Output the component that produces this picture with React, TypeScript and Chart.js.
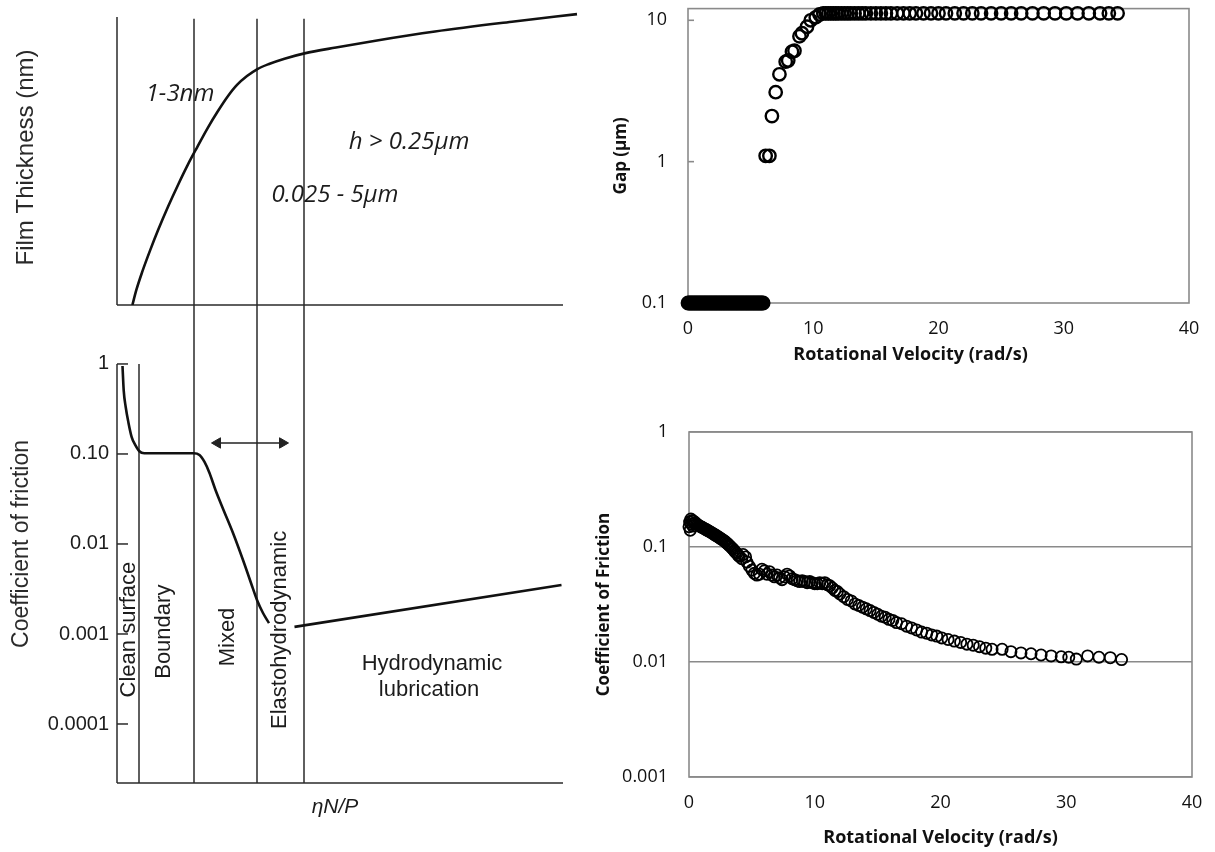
import React, { useEffect, useRef } from 'react';
import { Chart, registerables } from 'chart.js';

Chart.register(...registerables);

// ---------------- Left diagram (Stribeck curve) ----------------
// x: ηN/P (arbitrary units), yT: film thickness (arbitrary units), yB: coefficient of friction
const filmX = [3.08, 3.87, 5.06, 6.64, 8.22, 10.2, 12.2, 14.15, 16.1, 18.1, 20.1, 22.1, 24.0, 26.0, 28.0, 30.4, 33.5, 37.5, 43.8, 51.7, 63.6, 79.4, 92.0];
const filmY = [0, 5.1, 11.3, 18.6, 25.4, 33.3, 40.7, 47.5, 53.7, 59.9, 65.5, 70.6, 74.6, 77.6, 79.9, 81.7, 83.5, 85.3, 87.3, 89.6, 92.7, 96.1, 98.6];
const stribeckX = [1.1, 1.34, 1.74, 2.3, 2.92, 3.64, 4.42, 5.46, 15.3, 16.5, 17.5, 18.5, 19.7, 21.3, 23.2, 25.2, 26.8, 28.0, 29.2, 30.4];
const stribeckY = [0.95, 0.51, 0.333, 0.221, 0.155, 0.126, 0.108, 0.102, 0.102, 0.0975, 0.0815, 0.0615, 0.0398, 0.0239, 0.01325, 0.00664, 0.00369, 0.00239, 0.00171, 0.00132];
const hydroX = [35.5, 88.9];
const hydroY = [0.0012, 0.0035];
const arrowX = [20.1, 33.1];
const arrowY = [0.1325, 0.1325];
const regionBounds = [15.4, 28.0, 37.4];
const cleanSurfaceBound = 4.4;
const diagramAxisEnd = 89.2;
const frictionTicks = [1, 0.1, 0.01, 0.001, 0.0001];
const frictionTickLabels = ['1', '0.10', '0.01', '0.001', '0.0001'];

// ---------------- Right top: Gap vs rotational velocity ----------------
const gapVelocity = [
  0.0, 0.1, 0.2, 0.3, 0.4, 0.5, 0.6, 0.7, 0.8, 0.9,
  1.0, 1.1, 1.2, 1.3, 1.4, 1.5, 1.6, 1.7, 1.8, 1.9,
  2.0, 2.1, 2.2, 2.3, 2.4, 2.5, 2.6, 2.7, 2.8, 2.9,
  3.0, 3.1, 3.2, 3.3, 3.4, 3.5, 3.6, 3.7, 3.8, 3.9,
  4.0, 4.1, 4.2, 4.3, 4.4, 4.5, 4.6, 4.7, 4.8, 4.9,
  5.0, 5.1, 5.2, 5.3, 5.4, 5.5, 5.6, 5.7, 5.8, 5.9,
  6.0,
  6.2, 6.5, 6.7, 7.0, 7.3, 7.8, 8.0, 8.3, 8.5, 8.9, 9.1, 9.5, 9.8, 10.2, 10.5,
  10.8, 11.0, 11.2, 11.4, 11.6, 11.8, 12.0, 12.25, 12.5, 12.75,
  13.0, 13.3, 13.6, 13.9, 14.2, 14.6, 15.0, 15.4, 15.8, 16.2,
  16.7, 17.2, 17.7, 18.2, 18.8, 19.4, 20.0, 20.6, 21.3, 22.0,
  22.7, 23.4, 24.2, 25.0, 25.8, 26.6, 27.5, 28.4, 29.3, 30.2,
  31.1, 32.0, 32.9, 33.6, 34.3,
];
const gapValues = [
  0.1, 0.1, 0.1, 0.1, 0.1, 0.1, 0.1, 0.1, 0.1, 0.1,
  0.1, 0.1, 0.1, 0.1, 0.1, 0.1, 0.1, 0.1, 0.1, 0.1,
  0.1, 0.1, 0.1, 0.1, 0.1, 0.1, 0.1, 0.1, 0.1, 0.1,
  0.1, 0.1, 0.1, 0.1, 0.1, 0.1, 0.1, 0.1, 0.1, 0.1,
  0.1, 0.1, 0.1, 0.1, 0.1, 0.1, 0.1, 0.1, 0.1, 0.1,
  0.1, 0.1, 0.1, 0.1, 0.1, 0.1, 0.1, 0.1, 0.1, 0.1,
  0.1,
  1.1, 1.1, 2.1, 3.1, 4.15, 5.1, 5.2, 6.0, 6.1, 7.7, 8.1, 9.0, 10.0, 10.5, 11.0,
  11.2, 11.2, 11.2, 11.2, 11.2, 11.2, 11.2, 11.2, 11.2, 11.2,
  11.2, 11.2, 11.2, 11.2, 11.2, 11.2, 11.2, 11.2, 11.2, 11.2,
  11.2, 11.2, 11.2, 11.2, 11.2, 11.2, 11.2, 11.2, 11.2, 11.2,
  11.2, 11.2, 11.2, 11.2, 11.2, 11.2, 11.2, 11.2, 11.2, 11.2,
  11.2, 11.2, 11.2, 11.2, 11.2,
];
const gapTicks = [0.1, 1, 10];

// ---------------- Right bottom: Coefficient of friction vs rotational velocity ----------------
const frictionVelocity = [
  0.0, 0.05, 0.1, 0.15, 0.2, 0.25, 0.3, 0.35, 0.4, 0.5,
  0.6, 0.7, 0.8, 0.9, 1.0, 1.1, 1.2, 1.3, 1.4, 1.5,
  1.6, 1.7, 1.8, 1.9, 2.0, 2.1, 2.2, 2.3, 2.4, 2.5,
  2.6, 2.7, 2.8, 2.9, 3.0, 3.1, 3.2, 3.3, 3.4, 3.5,
  3.6, 3.7, 3.8, 3.9, 4.0, 4.2, 4.3, 4.5, 4.6, 4.8,
  5.0, 5.2, 5.4, 5.6, 5.8, 6.0, 6.2, 6.4, 6.6, 6.8,
  7.0, 7.2, 7.4, 7.6, 7.8, 8.0, 8.2, 8.4, 8.6, 8.8,
  9.0, 9.2, 9.4, 9.6, 9.8, 10.0, 10.2, 10.4, 10.6, 10.8,
  11.0, 11.2, 11.4, 11.6, 11.8, 12.0, 12.3, 12.6, 12.9, 13.2,
  13.5, 13.8, 14.1, 14.4, 14.7, 15.0, 15.3, 15.6, 15.9, 16.2,
  16.5, 16.9, 17.3, 17.7, 18.1, 18.5, 18.9, 19.3, 19.7, 20.1,
  20.6, 21.1, 21.6, 22.1, 22.6, 23.1, 23.6, 24.1, 24.9, 25.6,
  26.4, 27.2, 28.0, 28.8, 29.6, 30.2, 30.8, 31.7, 32.6, 33.5,
  34.4,
];
const frictionValues = [
  0.15, 0.165, 0.14, 0.175, 0.158, 0.17, 0.152, 0.168, 0.16, 0.163,
  0.158, 0.156, 0.153, 0.151, 0.149, 0.147, 0.145, 0.143, 0.141, 0.139,
  0.137, 0.135, 0.133, 0.131, 0.129, 0.127, 0.125, 0.123, 0.121, 0.119,
  0.117, 0.115, 0.113, 0.111, 0.108, 0.106, 0.103, 0.101, 0.098, 0.096,
  0.093, 0.09, 0.088, 0.085, 0.083, 0.079, 0.086, 0.082, 0.074, 0.068,
  0.063, 0.059, 0.057, 0.058, 0.064, 0.062, 0.058, 0.061, 0.057, 0.055,
  0.057, 0.054, 0.052, 0.055, 0.058, 0.056, 0.053, 0.052, 0.051, 0.05,
  0.051, 0.05, 0.049, 0.05, 0.049, 0.048, 0.048, 0.049, 0.048, 0.049,
  0.047, 0.046, 0.044, 0.042, 0.041, 0.039, 0.037, 0.035, 0.034, 0.032,
  0.031, 0.03, 0.029, 0.028, 0.027, 0.026, 0.025, 0.0245, 0.0235, 0.023,
  0.022, 0.0215, 0.0205, 0.0198, 0.019, 0.0182, 0.0178, 0.0172, 0.0168, 0.0162,
  0.0157, 0.0152, 0.0148, 0.0143, 0.014, 0.0136, 0.0132, 0.0129, 0.0129, 0.0123,
  0.012, 0.0118, 0.0115, 0.0113, 0.0111, 0.011, 0.0106, 0.0113, 0.011, 0.0109,
  0.0105,
];
const cofTicks = [0.001, 0.01, 0.1, 1];
const velocityTitle = 'Rotational Velocity (rad/s)';

// ---------------- styling ----------------
const DIAGRAM_FONT = '"Liberation Sans", Arial, Helvetica, sans-serif';
const OPEN = '"Open Sans", sans-serif';
const INK = '#1c1c1c';
const LOG_MIN = 2.21e-5;
const LOG_MAX = 4.52;

type Note = { text: string; x: number; y: number; axis: 'yT' | 'yB'; size: number; italic?: boolean; family: string; rot?: number };
const diagramNotes: Note[] = [
  { text: '1-3nm', x: 12.6, y: 71.5, axis: 'yT', size: 24, italic: true, family: OPEN },
  { text: 'h > 0.25μm', x: 58.4, y: 55.2, axis: 'yT', size: 24, italic: true, family: OPEN },
  { text: '0.025 - 5μm', x: 43.6, y: 37.1, axis: 'yT', size: 24, italic: true, family: OPEN },
  { text: 'Clean surface', x: 2.3, y: 0.00112, axis: 'yB', size: 22, family: DIAGRAM_FONT, rot: -90 },
  { text: 'Boundary', x: 9.4, y: 0.00106, axis: 'yB', size: 22, family: DIAGRAM_FONT, rot: -90 },
  { text: 'Mixed', x: 22.2, y: 0.000926, axis: 'yB', size: 22, family: DIAGRAM_FONT, rot: -90 },
  { text: 'Elastohydrodynamic', x: 32.6, y: 0.00111, axis: 'yB', size: 22, family: DIAGRAM_FONT, rot: -90 },
  { text: 'Hydrodynamic', x: 63.0, y: 0.00047, axis: 'yB', size: 22, family: DIAGRAM_FONT },
  { text: 'lubrication', x: 62.4, y: 0.000239, axis: 'yB', size: 22, family: DIAGRAM_FONT },
  { text: 'ηN/P', x: 43.6, y: 1.2e-5, axis: 'yB', size: 21, italic: true, family: DIAGRAM_FONT },
];

const zip = (xs: number[], ys: number[]) => xs.slice(0, Math.min(xs.length, ys.length)).map((x, i) => ({ x, y: ys[i] }));

const noPad = (s: any) => { s.paddingTop = 0; s.paddingBottom = 0; s.paddingLeft = 0; s.paddingRight = 0; };

function buildLeft(canvas: HTMLCanvasElement) {
  const framePlugin = {
    id: 'stribeckFrame',
    beforeDatasetsDraw(chart: any) {
      const { ctx } = chart;
      const X = (v: number) => chart.scales.x.getPixelForValue(v);
      const T = (v: number) => chart.scales.yT.getPixelForValue(v);
      const B = (v: number) => chart.scales.yB.getPixelForValue(v);
      ctx.save();
      ctx.strokeStyle = '#2a2a2a';
      ctx.lineWidth = 1.5;
      const seg = (x1: number, y1: number, x2: number, y2: number) => {
        ctx.beginPath(); ctx.moveTo(x1, y1); ctx.lineTo(x2, y2); ctx.stroke();
      };
      seg(X(0), T(97.6), X(0), T(0));
      seg(X(0), T(0), X(diagramAxisEnd), T(0));
      seg(X(0), B(1), X(0), B(LOG_MIN));
      seg(X(0), B(LOG_MIN), X(diagramAxisEnd), B(LOG_MIN));
      seg(X(cleanSurfaceBound), B(1), X(cleanSurfaceBound), B(LOG_MIN));
      regionBounds.forEach((b) => seg(X(b), T(97), X(b), B(LOG_MIN)));
      frictionTicks.forEach((v) => seg(X(0), B(v), X(2.2), B(v)));
      ctx.restore();
    },
    afterDatasetsDraw(chart: any) {
      const { ctx } = chart;
      ctx.save();
      ctx.fillStyle = INK;
      ctx.textAlign = 'center';
      ctx.textBaseline = 'middle';
      diagramNotes.forEach((n) => {
        const px = chart.scales.x.getPixelForValue(n.x);
        const py = chart.scales[n.axis].getPixelForValue(n.y);
        ctx.font = `${n.italic ? 'italic ' : ''}${n.size}px ${n.family}`;
        ctx.save();
        ctx.translate(px, py);
        if (n.rot) ctx.rotate((n.rot * Math.PI) / 180);
        ctx.fillText(n.text, 0, 0);
        ctx.restore();
      });
      ctx.restore();
    },
  };

  return new Chart(canvas, {
    type: 'scatter',
    data: {
      datasets: [
        { data: zip(filmX, filmY), yAxisID: 'yT', showLine: true, borderColor: '#111', borderWidth: 2.6, pointRadius: 0, cubicInterpolationMode: 'monotone' },
        { data: zip(stribeckX, stribeckY), yAxisID: 'yB', showLine: true, borderColor: '#111', borderWidth: 2.6, pointRadius: 0, cubicInterpolationMode: 'monotone' },
        { data: zip(hydroX, hydroY), yAxisID: 'yB', showLine: true, borderColor: '#111', borderWidth: 2.6, pointRadius: 0 },
        { data: zip(arrowX, arrowY), yAxisID: 'yB', showLine: true, borderColor: '#222', borderWidth: 1.6, pointStyle: 'triangle', pointRadius: 6, pointRotation: [-90, 90], pointBackgroundColor: '#222', pointBorderColor: '#222', pointBorderWidth: 1 },
      ] as any,
    },
    options: {
      animation: false,
      responsive: false,
      events: [],
      layout: { padding: { left: 0, right: 8, top: 10, bottom: 69 } },
      plugins: { legend: { display: false }, tooltip: { enabled: false } },
      scales: {
        x: { type: 'linear', min: 0, max: 95, display: false },
        yB: {
          type: 'logarithmic', position: 'left', stack: 'left', stackWeight: 478,
          min: LOG_MIN, max: LOG_MAX, bounds: 'data',
          grid: { display: false, drawTicks: false }, border: { display: false },
          afterFit: (s: any) => { s.width = 117; noPad(s); },
          afterBuildTicks: (s: any) => { s.ticks = frictionTicks.map((v) => ({ value: v })); },
          ticks: { padding: 8, color: INK, font: { family: DIAGRAM_FONT, size: 20 }, callback: (_v: any, i: number) => frictionTickLabels[i] },
          title: { display: true, text: 'Coefficient of friction', color: '#2a2a2a', font: { family: DIAGRAM_FONT, size: 23 }, padding: { top: 8, bottom: 0 } },
        },
        yT: {
          type: 'linear', position: 'left', stack: 'left', stackWeight: 295,
          min: 0, max: 100,
          grid: { display: false, drawTicks: false }, border: { display: false },
          ticks: { display: false },
          afterFit: (s: any) => { s.width = 117; noPad(s); },
          title: { display: true, text: 'Film Thickness (nm)', color: '#2a2a2a', font: { family: DIAGRAM_FONT, size: 24 }, padding: { top: 12, bottom: 0 } },
        },
      },
    } as any,
    plugins: [framePlugin],
  });
}

type RightOpts = {
  xs: number[]; ys: number[]; yTicks: number[]; yMin: number; yMax: number; yTitle: string;
  grid: boolean; innerTicks: boolean; yWidth: number; xHeight: number; padTop: number; padRight: number;
  titlePadTop: number; radius: number; border: number; xTitleDx: number; xTitleDy: number;
};

function buildRight(canvas: HTMLCanvasElement, o: RightOpts) {
  const framePlugin = {
    id: 'excelFrame',
    beforeDatasetsDraw(chart: any) {
      const { ctx, chartArea: a } = chart;
      ctx.save();
      ctx.strokeStyle = '#8a8a8a';
      ctx.lineWidth = 1.6;
      ctx.strokeRect(a.left, a.top, a.right - a.left, a.bottom - a.top);
      if (o.innerTicks) {
        o.yTicks.forEach((v) => {
          const y = chart.scales.y.getPixelForValue(v);
          ctx.beginPath(); ctx.moveTo(a.left, y); ctx.lineTo(a.left + 6, y); ctx.stroke();
        });
      }
      ctx.restore();
    },
    afterDraw(chart: any) {
      const { ctx, chartArea: a } = chart;
      ctx.save();
      ctx.fillStyle = '#111';
      ctx.font = `bold 18px ${OPEN}`;
      ctx.textAlign = 'center';
      ctx.textBaseline = 'middle';
      ctx.fillText(velocityTitle, (a.left + a.right) / 2 + o.xTitleDx, a.bottom + o.xTitleDy);
      ctx.restore();
    },
  };
  return new Chart(canvas, {
    type: 'scatter',
    data: {
      datasets: [
        {
          data: zip(o.xs, o.ys), showLine: false, clip: false,
          pointStyle: 'circle', pointRadius: o.radius, pointBorderWidth: o.border,
          pointBorderColor: '#000', pointBackgroundColor: 'rgba(0,0,0,0)',
        },
      ] as any,
    },
    options: {
      animation: false,
      responsive: false,
      events: [],
      layout: { padding: { left: 0, right: o.padRight, top: o.padTop, bottom: 0 } },
      plugins: { legend: { display: false }, tooltip: { enabled: false } },
      scales: {
        x: {
          type: 'linear', min: 0, max: 40,
          grid: { display: false, drawTicks: false }, border: { display: false },
          afterFit: (s: any) => { s.height = o.xHeight; noPad(s); },
          ticks: { stepSize: 10, padding: 15, autoSkip: false, maxRotation: 0, color: '#111', font: { family: OPEN, size: 18 } },
        },
        y: {
          type: 'logarithmic', min: o.yMin, max: o.yMax, bounds: 'data',
          grid: { display: o.grid, drawTicks: false, color: '#8a8a8a', lineWidth: 1.4 }, border: { display: false },
          afterFit: (s: any) => { s.width = o.yWidth; noPad(s); },
          afterBuildTicks: (s: any) => { s.ticks = o.yTicks.map((v) => ({ value: v })); },
          ticks: { padding: 21, color: '#111', font: { family: OPEN, size: 18 }, callback: (v: any) => String(v) },
          title: { display: true, text: o.yTitle, color: '#111', font: { family: OPEN, size: 17, weight: 'bold' }, padding: { top: o.titlePadTop, bottom: 0 } },
        },
      },
    } as any,
    plugins: [framePlugin],
  });
}

export default function App() {
  const leftRef = useRef<HTMLCanvasElement>(null);
  const gapRef = useRef<HTMLCanvasElement>(null);
  const cofRef = useRef<HTMLCanvasElement>(null);

  useEffect(() => {
    const charts = [
      buildLeft(leftRef.current!),
      buildRight(gapRef.current!, {
        xs: gapVelocity, ys: gapValues, yTicks: gapTicks, yMin: 0.1, yMax: 12.1, yTitle: 'Gap (μm)',
        grid: false, innerTicks: true, yWidth: 108, xHeight: 77, padTop: 5, padRight: 26,
        titlePadTop: 31, radius: 6.2, border: 2.4, xTitleDx: -28, xTitleDy: 52,
      }),
      buildRight(cofRef.current!, {
        xs: frictionVelocity, ys: frictionValues, yTicks: cofTicks, yMin: 0.001, yMax: 1, yTitle: 'Coefficient of Friction',
        grid: true, innerTicks: false, yWidth: 109, xHeight: 75, padTop: 32, padRight: 23,
        titlePadTop: 14, radius: 5.6, border: 1.8, xTitleDx: 0, xTitleDy: 61,
      }),
    ];
    return () => charts.forEach((c) => c.destroy());
  }, []);

  return (
    <div style={{ position: 'absolute', left: 0, top: 0, width: 1215, height: 852, background: '#fff', overflow: 'hidden' }}>
      <canvas ref={leftRef} width={600} height={852} style={{ position: 'absolute', left: 0, top: 0, width: 600, height: 852 }} />
      <canvas ref={gapRef} width={635} height={380} style={{ position: 'absolute', left: 580, top: 0, width: 635, height: 380 }} />
      <canvas ref={cofRef} width={635} height={452} style={{ position: 'absolute', left: 580, top: 400, width: 635, height: 452 }} />
    </div>
  );
}
